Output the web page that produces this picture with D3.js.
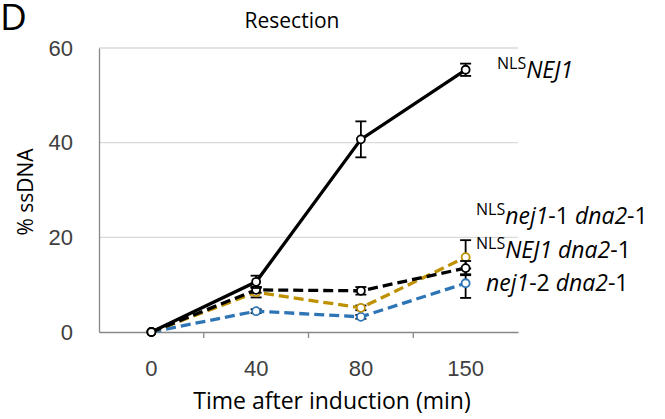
<!DOCTYPE html>
<html lang="en">
<head>
<meta charset="UTF-8">
<title>Resection</title>
<script src="https://d3js.org/d3.v7.min.js"></script>
<style>
  body { margin: 0; background: #fff; }
  svg { display: block; font-family: 'Open Sans', 'Noto Sans', sans-serif; }
  .tick text { fill: #404040; }
</style>
</head>
<body>
<div id="chart"></div>
<script>
// Data
const times = ["0", "40", "80", "150"];
const yTicks = [0, 20, 40, 60];

const nlsNej1 = [0, 10.6, 40.7, 55.4];
const nlsNej1Err = [0, 1.3, 3.8, 1.3];

const blackDash = [0, 8.9, 8.7, 13.5];
const blackDashErr = [0, 0.6, 0.8, 1.5];

const yellowDash = [0, 8.4, 5.1, 15.8];
const yellowDashErr = [0, 1.1, 0.5, 3.6];

const blueDash = [0, 4.4, 3.2, 10.3];
const blueDashErr = [0, 0.4, 0.4, 3.1];

const series = [
  { values: blueDash, err: blueDashErr, color: "#2e75b6", dash: "10,5" },
  { values: yellowDash, err: yellowDashErr, color: "#bf9000", dash: "10,5" },
  { values: blackDash, err: blackDashErr, color: "#000", dash: "10,5" },
  { values: nlsNej1, err: nlsNej1Err, color: "#000", dash: null }
];

const width = 665, height = 419;
const margin = { top: 48, right: 147, bottom: 87, left: 99 };

const svg = d3.select("#chart").append("svg")
  .attr("width", width).attr("height", height);

const x = d3.scaleBand().domain(times)
  .range([margin.left, width - margin.right]);
const y = d3.scaleLinear().domain([0, 60])
  .range([height - margin.bottom, margin.top]);

// gridlines
svg.append("g")
  .selectAll("line").data(yTicks.filter(d => d > 0)).join("line")
  .attr("x1", margin.left).attr("x2", width - margin.right)
  .attr("y1", d => y(d)).attr("y2", d => y(d))
  .attr("stroke", "#d9d9d9").attr("stroke-width", 1.3);

// y axis
const yAxis = svg.append("g")
  .attr("transform", `translate(${margin.left},0)`)
  .call(d3.axisLeft(y).tickValues(yTicks).tickSize(0).tickPadding(26));
yAxis.select(".domain").attr("stroke", "#888").attr("stroke-width", 1.3);
yAxis.selectAll("text").attr("font-size", 22);

// x axis
const xAxis = svg.append("g")
  .attr("transform", `translate(0,${y(0)})`)
  .call(d3.axisBottom(x).tickSize(0).tickPadding(28));
xAxis.select(".domain").attr("stroke", "#888").attr("stroke-width", 1.3);
xAxis.selectAll("text").attr("font-size", 22);
// tick marks at category boundaries
xAxis.selectAll("line.bound").data(times.slice(1)).join("line")
  .attr("class", "bound")
  .attr("x1", d => x(d)).attr("x2", d => x(d))
  .attr("y1", 0).attr("y2", 6)
  .attr("stroke", "#888").attr("stroke-width", 1.3);

const cx = t => x(t) + x.bandwidth() / 2;

const line = d3.line()
  .x((d, i) => cx(times[i]))
  .y(d => y(d));

series.forEach(s => {
  const g = svg.append("g");
  // error bars
  const pts = s.values.map((v, i) => ({ t: times[i], v, e: s.err[i] })).filter(p => p.e > 0);
  g.selectAll("line.eb").data(pts).join("line")
    .attr("x1", p => cx(p.t)).attr("x2", p => cx(p.t))
    .attr("y1", p => y(p.v - p.e)).attr("y2", p => y(p.v + p.e))
    .attr("stroke", "#000").attr("stroke-width", 1.8);
  [-1, 1].forEach(sign => {
    g.append("g").selectAll("line").data(pts).join("line")
      .attr("x1", p => cx(p.t) - 5.5).attr("x2", p => cx(p.t) + 5.5)
      .attr("y1", p => y(p.v + sign * p.e))
      .attr("y2", p => y(p.v + sign * p.e))
      .attr("stroke", "#000").attr("stroke-width", 1.8);
  });
  g.append("path").datum(s.values)
    .attr("d", line)
    .attr("fill", "none")
    .attr("stroke", s.color)
    .attr("stroke-width", 3.3)
    .attr("stroke-dasharray", s.dash);
  g.selectAll("circle").data(s.values).join("circle")
    .attr("cx", (d, i) => cx(times[i])).attr("cy", d => y(d))
    .attr("r", 4)
    .attr("fill", "#fff")
    .attr("stroke", s.color)
    .attr("stroke-width", 1.8);
});

// titles
svg.append("text").attr("x", 292).attr("y", 28)
  .attr("text-anchor", "middle").attr("font-size", 21).text("Resection");
svg.append("text").attr("x", 0).attr("y", 30)
  .attr("font-size", 37).text("D");
svg.append("text")
  .attr("transform", `translate(33,192) rotate(-90)`)
  .attr("text-anchor", "middle").attr("font-size", 21).text("% ssDNA");
svg.append("text").attr("x", 332).attr("y", 409)
  .attr("text-anchor", "middle").attr("font-size", 23).text("Time after induction (min)");

// series labels: [text, italic, superscript]
const labels = [
  { x: 497, y: 78, parts: [["NLS", false, true], ["NEJ1", true, false]] },
  { x: 476, y: 224, parts: [["NLS", false, true], ["nej1", true, false], ["-1 ", false, false], ["dna2", true, false], ["-1", false, false]] },
  { x: 476, y: 258, parts: [["NLS", false, true], ["NEJ1 dna2", true, false], ["-1", false, false]] },
  { x: 486, y: 291, parts: [["nej1", true, false], ["-2 ", false, false], ["dna2", true, false], ["-1", false, false]] }
];
labels.forEach(l => {
  const t = svg.append("text").attr("x", l.x).attr("y", l.y).attr("font-size", 23)
    .attr("xml:space", "preserve");
  let raised = false;
  l.parts.forEach(([txt, it, sup]) => {
    const ts = t.append("tspan").text(txt);
    if (it) ts.attr("font-style", "italic");
    if (sup) { ts.attr("font-size", 16).attr("dy", -9); raised = true; }
    else if (raised) { ts.attr("dy", 9); raised = false; }
  });
});
</script>
</body>
</html>
